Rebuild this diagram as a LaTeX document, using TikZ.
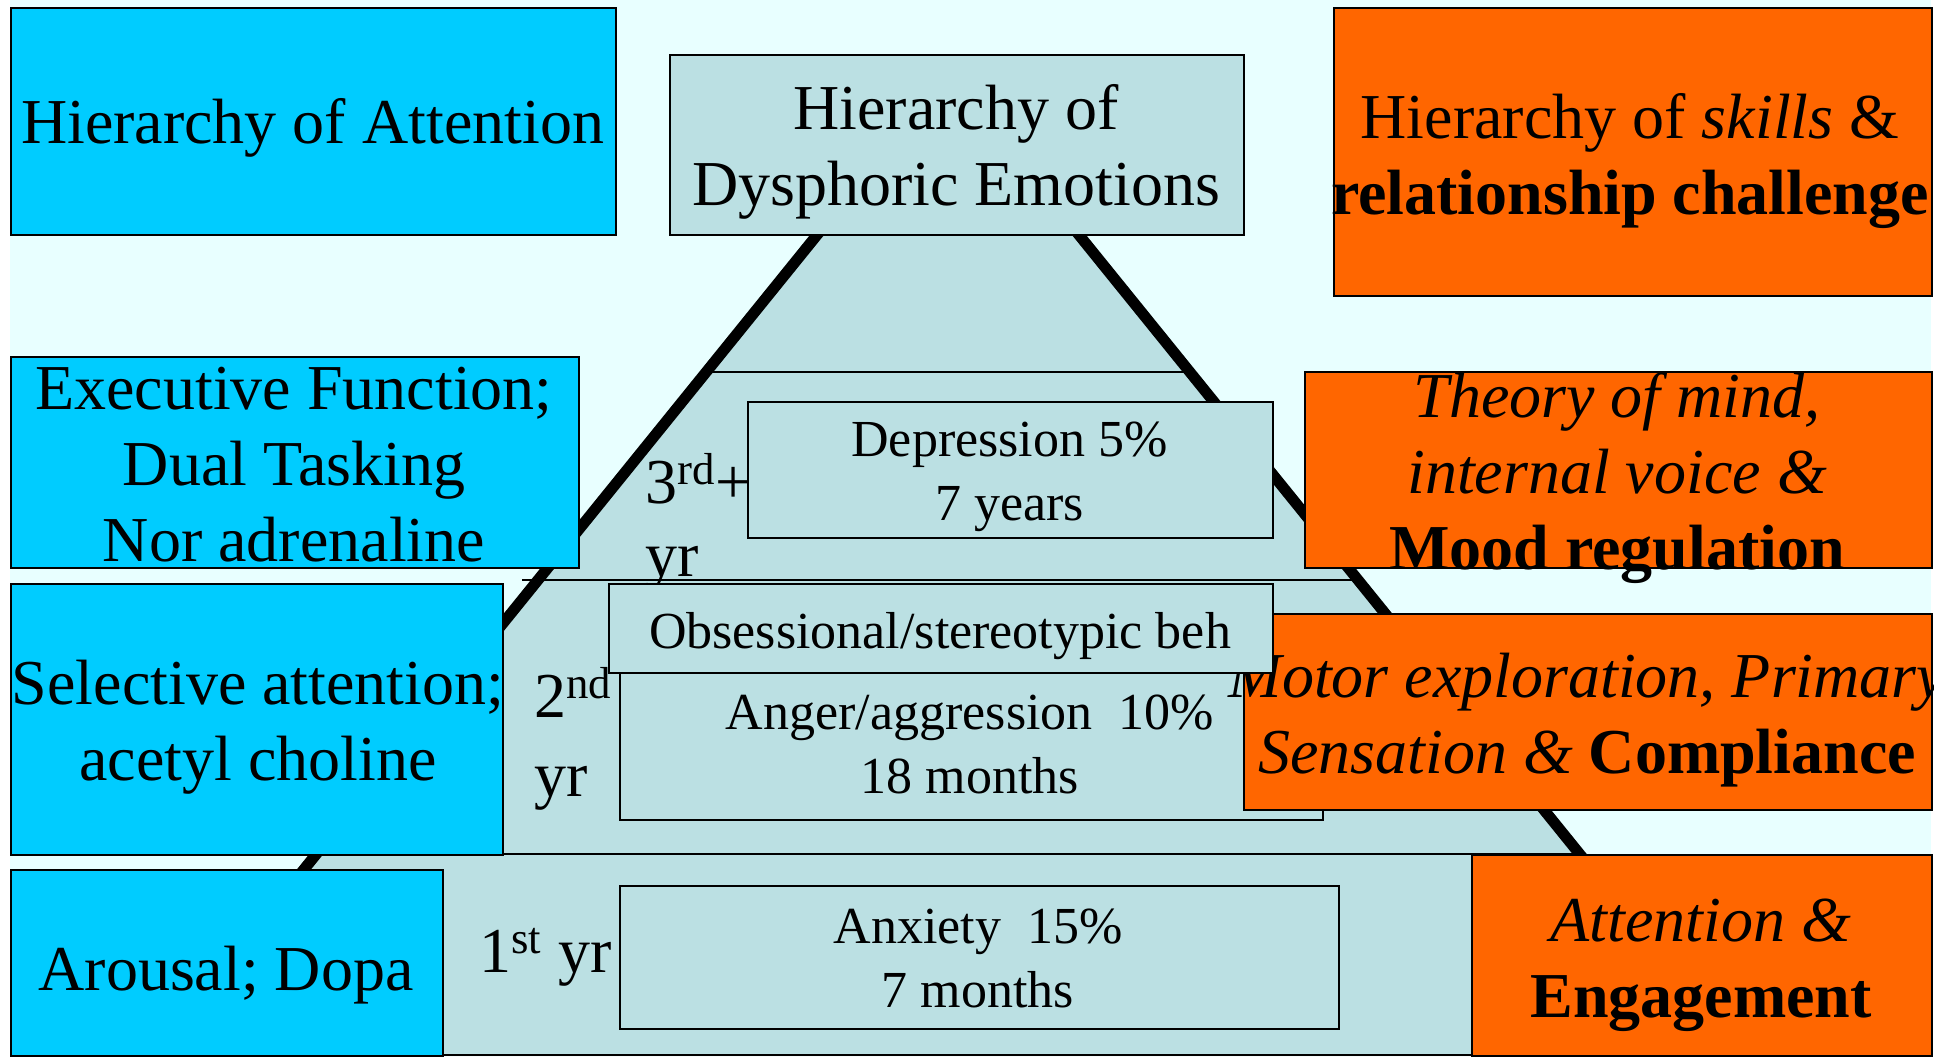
\documentclass[tikz,border=0pt]{standalone}
\usepackage{fontspec}
\setmainfont{Liberation Serif}
\definecolor{bgc}{HTML}{E8FFFF}
\definecolor{pyr}{HTML}{BBE0E3}
\definecolor{skyb}{HTML}{00CCFF}
\definecolor{orng}{HTML}{FF6600}
\begin{document}
\begin{tikzpicture}[x=0.5pt,y=-0.5pt,
 boxbase/.style={draw=black,line width=1pt,inner sep=0pt,anchor=north west},
 bluebx/.style={boxbase,fill=skyb},
 orangebx/.style={boxbase,fill=orng},
 pyrbx/.style={boxbase,fill=pyr},
 bigtxt/.style={font=\fontsize{32}{38}\selectfont,align=center,inner sep=0pt},
 smalltxt/.style={font=\fontsize{26}{32}\selectfont,align=center,inner sep=0pt},
 yrtxt/.style={font=\fontsize{32}{38}\selectfont,inner sep=0pt,anchor=base west},
 thinln/.style={line width=1pt},
 thickln/.style={line width=5.5pt}]
\useasboundingbox (0,0) rectangle (1952,1056);
\fill[white] (0,0) rectangle (1952,1056);
\fill[bgc] (10,0) rectangle (1931,1056);
\begin{scope}
\clip (8,0) rectangle (1933,1056);
% pyramid
\coordinate (apex) at (948,73);
\coordinate (bl) at (153,1056);
\coordinate (br) at (1743,1056);
\fill[pyr] (apex) -- (br) -- (bl) -- cycle;
\coordinate (l3a) at (706,372);
\coordinate (l3b) at (1190,372);
\coordinate (l2a) at (522,580);
\coordinate (l2b) at (1360,580);
\coordinate (l1a) at (305,854);
\coordinate (l1b) at (1580,854);
\coordinate (l0a) at (10,1055);
\coordinate (l0b) at (1931,1055);
\draw[thinln] (l3a) -- (l3b);
\draw[thinln] (l2a) -- (l2b);
\draw[thinln] (l1a) -- (l1b);
\draw[thinln] (l0a) -- (l0b);
\draw[thickln] (apex) -- (bl);
\draw[thickln] (apex) -- (br);
% inner boxes
\node[pyrbx,minimum width=262.5pt,minimum height=68pt] (depr) at (747,401) {};
\node[smalltxt] (deprT) at (1009.5,477) {Depression 5\%\\7 years};
\node[pyrbx,minimum width=351.5pt,minimum height=75pt] (anger) at (619,669) {};
\node[smalltxt] (angerT) at (970,744) {Anger/aggression\ \ 10\%\\18 months};
\node[pyrbx,minimum width=359.5pt,minimum height=71.5pt] (anx) at (619,885) {};
\node[smalltxt] (anxT) at (978,958) {Anxiety\ \ 15\%\\7 months};
% year labels
\node[yrtxt] (y3) at (645,503) {3\textsuperscript{rd}+};
\node[yrtxt] (y3b) at (645,576) {yr};
\node[yrtxt] (y2) at (534,717) {2\textsuperscript{nd}};
\node[yrtxt] (y2b) at (534,796) {yr};
\node[yrtxt] (y1) at (479,972) {1\textsuperscript{st} yr};
% side boxes
\node[bluebx,minimum width=302.5pt,minimum height=113.5pt] (att) at (10,7) {};
\node[bigtxt] (attT) at (312.5,128) {Hierarchy of Attention};
\node[pyrbx,minimum width=287pt,minimum height=90pt] (dys) at (669,54) {};
\node[bigtxt] (dysT) at (956,152) {Hierarchy of\\Dysphoric Emotions};
\node[orangebx,minimum width=299pt,minimum height=144pt] (skl) at (1333,7) {};
\node[bigtxt] (sklT) at (1630,161) {Hierarchy of \textit{skills} \&\\\textbf{relationship challenge}};
\node[bluebx,minimum width=284pt,minimum height=105.5pt] (exe) at (10,356) {};
\node[bigtxt] (exeT) at (294,465) {Executive Function;\\Dual Tasking\\Nor adrenaline};
\node[orangebx,minimum width=313.5pt,minimum height=98pt] (tom) at (1304,371) {};
\node[bigtxt] (tomT) at (1617,478) {\textit{Theory of mind,}\\\textit{internal voice \&}\\\textbf{Mood regulation}};
\node[bluebx,minimum width=246pt,minimum height=135.5pt] (sel) at (10,583) {};
\node[bigtxt] (selT) at (258,727) {Selective attention;\\acetyl choline};
\node[orangebx,minimum width=344pt,minimum height=98pt] (mot) at (1243,613) {};
\node[bigtxt] (motT) at (1587,720) {\textit{Motor exploration, Primary}\\\textit{Sensation \&} \textbf{Compliance}};
\node[bluebx,minimum width=216pt,minimum height=93pt] (aro) at (10,869) {};
\node[bigtxt] (aroT) at (226,975) {Arousal; Dopa};
\node[orangebx,minimum width=230pt,minimum height=100.5pt] (atn) at (1471,854) {};
\node[bigtxt] (atnT) at (1701,965) {\textit{Attention \&}\\\textbf{Engagement}};
% obsessional box on top
\node[pyrbx,minimum width=332pt,minimum height=44.5pt] (obs) at (608,583) {};
\node[smalltxt] (obsT) at (940,636) {Obsessional/stereotypic beh};
\end{scope}
\end{tikzpicture}
\end{document}
